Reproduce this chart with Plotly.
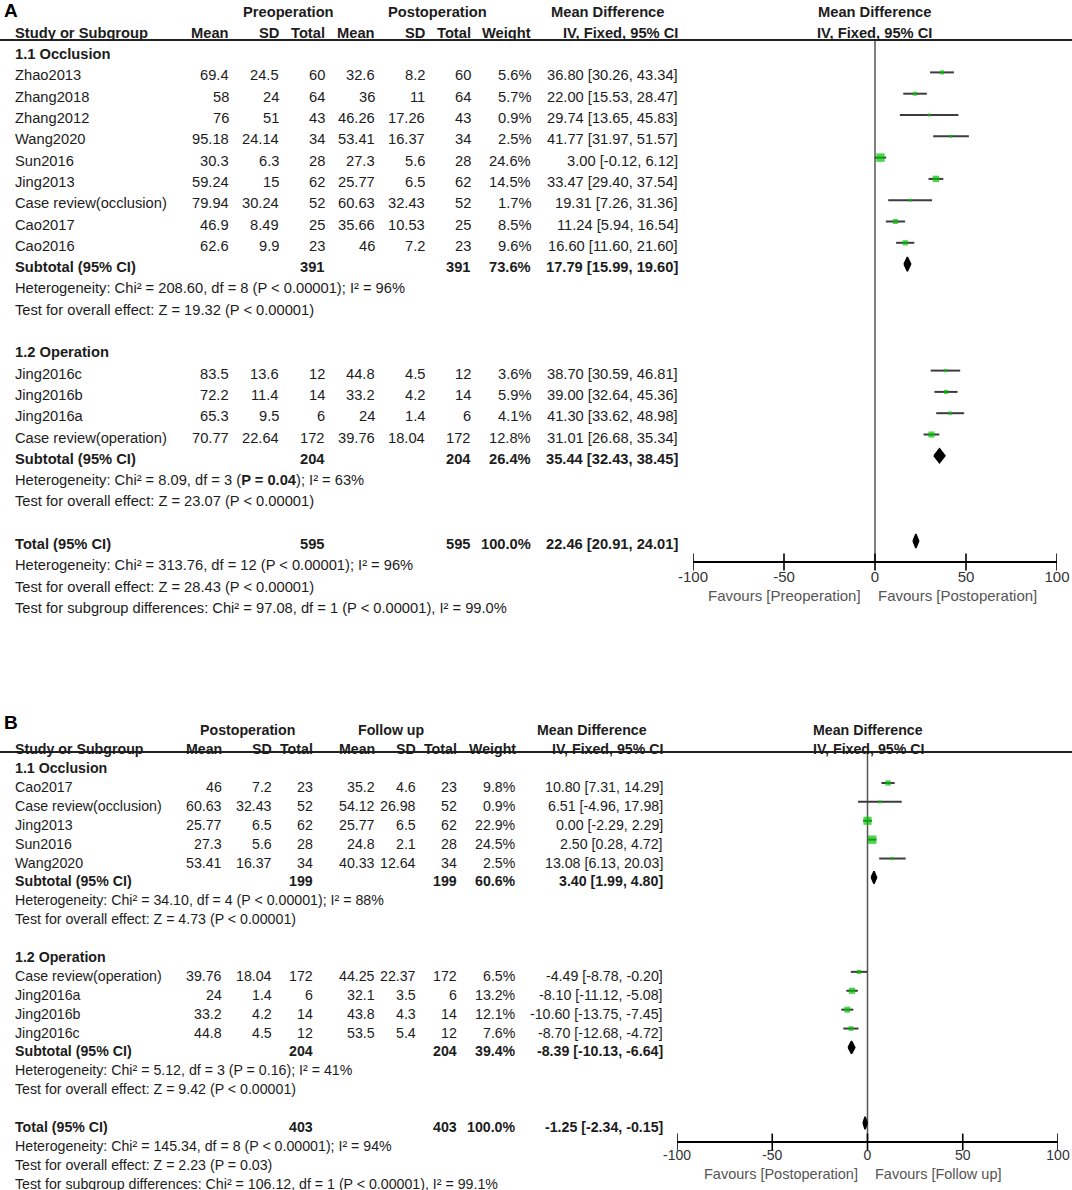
import math
import plotly.graph_objects as go

# ======================= DATA : PANEL A =======================
a_hdr_groups = ["Preoperation", "Postoperation"]
a_left_fav = "Favours [Preoperation]"
a_right_fav = "Favours [Postoperation]"

a1_name = "1.1 Occlusion"
a1_study = ["Zhao2013", "Zhang2018", "Zhang2012", "Wang2020", "Sun2016", "Jing2013",
            "Case review(occlusion)", "Cao2017", "Cao2016"]
a1_m1 = ["69.4", "58", "76", "95.18", "30.3", "59.24", "79.94", "46.9", "62.6"]
a1_s1 = ["24.5", "24", "51", "24.14", "6.3", "15", "30.24", "8.49", "9.9"]
a1_n1 = [60, 64, 43, 34, 28, 62, 52, 25, 23]
a1_m2 = ["32.6", "36", "46.26", "53.41", "27.3", "25.77", "60.63", "35.66", "46"]
a1_s2 = ["8.2", "11", "17.26", "16.37", "5.6", "6.5", "32.43", "10.53", "7.2"]
a1_n2 = [60, 64, 43, 34, 28, 62, 52, 25, 23]
a1_w = [5.6, 5.7, 0.9, 2.5, 24.6, 14.5, 1.7, 8.5, 9.6]
a1_md = [36.80, 22.00, 29.74, 41.77, 3.00, 33.47, 19.31, 11.24, 16.60]
a1_lo = [30.26, 15.53, 13.65, 31.97, -0.12, 29.40, 7.26, 5.94, 11.60]
a1_hi = [43.34, 28.47, 45.83, 51.57, 6.12, 37.54, 31.36, 16.54, 21.60]
a1_sub = [391, 391, 73.6, 17.79, 15.99, 19.60]
a1_het = "Heterogeneity: Chi² = 208.60, df = 8 (P < 0.00001); I² = 96%"
a1_test = "Test for overall effect: Z = 19.32 (P < 0.00001)"

a2_name = "1.2 Operation"
a2_study = ["Jing2016c", "Jing2016b", "Jing2016a", "Case review(operation)"]
a2_m1 = ["83.5", "72.2", "65.3", "70.77"]
a2_s1 = ["13.6", "11.4", "9.5", "22.64"]
a2_n1 = [12, 14, 6, 172]
a2_m2 = ["44.8", "33.2", "24", "39.76"]
a2_s2 = ["4.5", "4.2", "1.4", "18.04"]
a2_n2 = [12, 14, 6, 172]
a2_w = [3.6, 5.9, 4.1, 12.8]
a2_md = [38.70, 39.00, 41.30, 31.01]
a2_lo = [30.59, 32.64, 33.62, 26.68]
a2_hi = [46.81, 45.36, 48.98, 35.34]
a2_sub = [204, 204, 26.4, 35.44, 32.43, 38.45]
a2_het = "Heterogeneity: Chi² = 8.09, df = 3 (<b>P = 0.04</b>); I² = 63%"
a2_test = "Test for overall effect: Z = 23.07 (P < 0.00001)"

a_total = [595, 595, 100.0, 22.46, 20.91, 24.01]
a_total_het = "Heterogeneity: Chi² = 313.76, df = 12 (P < 0.00001); I² = 96%"
a_total_test = "Test for overall effect: Z = 28.43 (P < 0.00001)"
a_subgroup = "Test for subgroup differences: Chi² = 97.08, df = 1 (P < 0.00001), I² = 99.0%"

# ======================= DATA : PANEL B =======================
b_hdr_groups = ["Postoperation", "Follow up"]
b_left_fav = "Favours [Postoperation]"
b_right_fav = "Favours [Follow up]"

b1_name = "1.1 Occlusion"
b1_study = ["Cao2017", "Case review(occlusion)", "Jing2013", "Sun2016", "Wang2020"]
b1_m1 = ["46", "60.63", "25.77", "27.3", "53.41"]
b1_s1 = ["7.2", "32.43", "6.5", "5.6", "16.37"]
b1_n1 = [23, 52, 62, 28, 34]
b1_m2 = ["35.2", "54.12", "25.77", "24.8", "40.33"]
b1_s2 = ["4.6", "26.98", "6.5", "2.1", "12.64"]
b1_n2 = [23, 52, 62, 28, 34]
b1_w = [9.8, 0.9, 22.9, 24.5, 2.5]
b1_md = [10.80, 6.51, 0.00, 2.50, 13.08]
b1_lo = [7.31, -4.96, -2.29, 0.28, 6.13]
b1_hi = [14.29, 17.98, 2.29, 4.72, 20.03]
b1_sub = [199, 199, 60.6, 3.40, 1.99, 4.80]
b1_het = "Heterogeneity: Chi² = 34.10, df = 4 (P < 0.00001); I² = 88%"
b1_test = "Test for overall effect: Z = 4.73 (P < 0.00001)"

b2_name = "1.2 Operation"
b2_study = ["Case review(operation)", "Jing2016a", "Jing2016b", "Jing2016c"]
b2_m1 = ["39.76", "24", "33.2", "44.8"]
b2_s1 = ["18.04", "1.4", "4.2", "4.5"]
b2_n1 = [172, 6, 14, 12]
b2_m2 = ["44.25", "32.1", "43.8", "53.5"]
b2_s2 = ["22.37", "3.5", "4.3", "5.4"]
b2_n2 = [172, 6, 14, 12]
b2_w = [6.5, 13.2, 12.1, 7.6]
b2_md = [-4.49, -8.10, -10.60, -8.70]
b2_lo = [-8.78, -11.12, -13.75, -12.68]
b2_hi = [-0.20, -5.08, -7.45, -4.72]
b2_sub = [204, 204, 39.4, -8.39, -10.13, -6.64]
b2_het = "Heterogeneity: Chi² = 5.12, df = 3 (P = 0.16); I² = 41%"
b2_test = "Test for overall effect: Z = 9.42 (P < 0.00001)"

b_total = [403, 403, 100.0, -1.25, -2.34, -0.15]
b_total_het = "Heterogeneity: Chi² = 145.34, df = 8 (P < 0.00001); I² = 94%"
b_total_test = "Test for overall effect: Z = 2.23 (P = 0.03)"
b_subgroup = "Test for subgroup differences: Chi² = 106.12, df = 1 (P < 0.00001), I² = 99.1%"

tick_vals = [-100, -50, 0, 50, 100]
tick_text = ["-100", "-50", "0", "50", "100"]
col_headers = ["Mean", "SD", "Total", "Mean", "SD", "Total", "Weight"]

# ======================= BUILD =======================
W, H = 1072, 1190
FONT = "Liberation Sans, Arial, Helvetica, sans-serif"
TXT = "#1c1c1c"
GREEN = "#00c400"


def grp(name, study, m1, s1, n1, m2, s2, n2, w, md, lo, hi, sub, het, test):
    return dict(name=name, study=study, m1=m1, s1=s1, n1=n1, m2=m2, s2=s2, n2=n2,
                w=w, md=md, lo=lo, hi=hi, sub=sub, het=het, test=test)


panels = [
    dict(letter="A", hdr=a_hdr_groups, lf=a_left_fav, rf=a_right_fav,
         groups=[grp(a1_name, a1_study, a1_m1, a1_s1, a1_n1, a1_m2, a1_s2, a1_n2,
                     a1_w, a1_md, a1_lo, a1_hi, a1_sub, a1_het, a1_test),
                 grp(a2_name, a2_study, a2_m1, a2_s1, a2_n1, a2_m2, a2_s2, a2_n2,
                     a2_w, a2_md, a2_lo, a2_hi, a2_sub, a2_het, a2_test)],
         total=a_total, thet=a_total_het, ttest=a_total_test, tsub=a_subgroup,
         # layout (pixels)
         row0=8.5, rowh=21.3, tshift=3, fs=14.7,
         cols=[231, 281, 327, 377, 427, 473, 533, 680],
         hdrc=[288, 437, 607], fcen=874, hline=40,
         xdom=(693, 1057), axis_px=562, fav_px=595, fav_gap=(863, 876),
         tick_fs=15, standoff=1, fav_fs=15,
         letter_px=11, xa="x", ya="y"),
    dict(letter="B", hdr=b_hdr_groups, lf=b_left_fav, rf=b_right_fav,
         groups=[grp(b1_name, b1_study, b1_m1, b1_s1, b1_n1, b1_m2, b1_s2, b1_n2,
                     b1_w, b1_md, b1_lo, b1_hi, b1_sub, b1_het, b1_test),
                 grp(b2_name, b2_study, b2_m1, b2_s1, b2_n1, b2_m2, b2_s2, b2_n2,
                     b2_w, b2_md, b2_lo, b2_hi, b2_sub, b2_het, b2_test)],
         total=b_total, thet=b_total_het, ttest=b_total_test, tsub=b_subgroup,
         row0=726.3, rowh=18.89, tshift=4, fs=14.2,
         cols=[224, 274, 315, 377, 418, 459, 518, 665],
         hdrc=[247, 391, 592], fcen=868, hline=752,
         xdom=(677, 1058), axis_px=1142, fav_px=1174, fav_gap=(860, 873),
         tick_fs=14, standoff=0, fav_fs=14.5,
         letter_px=723, xa="x2", ya="y2"),
]

fig = go.Figure()
annotations = []
shapes = []
layout_axes = {}


def px_x(p):
    return p / W


def px_y(p):
    return 1 - p / H


def ci_txt(md, lo, hi):
    return f"{md:.2f} [{lo:.2f}, {hi:.2f}]"


for k, P in enumerate(panels):
    yref = P["ya"]
    fs = P["fs"]
    cols = P["cols"]

    def txt(text, xpx, row, anchor="right", bold=False, size=None, color=TXT):
        t = f"<b>{text}</b>" if bold else text
        annotations.append(dict(text=t, x=px_x(xpx), y=row, xref="paper", yref=yref,
                                xanchor=anchor, yanchor="middle", showarrow=False,
                                yshift=-P["tshift"],
                                font=dict(family=FONT, size=size or fs, color=color)))

    # header rows
    txt(P["hdr"][0], P["hdrc"][0], 0, anchor="center", bold=True)
    txt(P["hdr"][1], P["hdrc"][1], 0, anchor="center", bold=True)
    txt("Mean Difference", P["hdrc"][2], 0, anchor="center", bold=True)
    txt("Mean Difference", P["fcen"], 0, anchor="center", bold=True)
    txt("Study or Subgroup", 13, 1, anchor="left", bold=True)
    for h, c in zip(col_headers, cols[:7]):
        txt(h, c, 1, bold=True)
    txt("IV, Fixed, 95% CI", cols[7], 1, bold=True)
    txt("IV, Fixed, 95% CI", P["fcen"], 1, anchor="center", bold=True)

    # panel letter
    annotations.append(dict(text="<b>%s</b>" % P["letter"], x=px_x(2), y=px_y(P["letter_px"]),
                            xref="paper", yref="paper", xanchor="left", yanchor="middle",
                            showarrow=False, font=dict(family=FONT, size=19, color="#000")))

    hline_row = (P["hline"] - P["row0"]) / P["rowh"]
    shapes.append(dict(type="line", xref="paper", yref=yref, x0=0, x1=1,
                       y0=hline_row, y1=hline_row, line=dict(color="#222", width=2)))

    ci_x, ci_y = [], []
    sq_x, sq_y, sq_s = [], [], []
    dia = []
    r = 2
    for g in P["groups"]:
        txt(g["name"], 13, r, anchor="left", bold=True)
        r += 1
        for i, s in enumerate(g["study"]):
            txt(s, 13, r, anchor="left")
            vals = [g["m1"][i], g["s1"][i], str(g["n1"][i]), g["m2"][i], g["s2"][i],
                    str(g["n2"][i]), f"{g['w'][i]:.1f}%"]
            for v, c in zip(vals, cols[:7]):
                txt(v, c, r)
            txt(ci_txt(g["md"][i], g["lo"][i], g["hi"][i]), cols[7], r)
            ci_x += [g["lo"][i], g["hi"][i], None]
            ci_y += [r, r, None]
            sq_x.append(g["md"][i])
            sq_y.append(r)
            sq_s.append(max(3.0, 1.7 * math.sqrt(g["w"][i])))
            r += 1
        sb = g["sub"]
        txt("Subtotal (95% CI)", 13, r, anchor="left", bold=True)
        txt(str(sb[0]), cols[2], r, bold=True)
        txt(str(sb[1]), cols[5], r, bold=True)
        txt(f"{sb[2]:.1f}%", cols[6], r, bold=True)
        txt(ci_txt(sb[3], sb[4], sb[5]), cols[7], r, bold=True)
        dia.append((sb[3], sb[4], sb[5], r))
        r += 1
        txt(g["het"], 13, r, anchor="left")
        r += 1
        txt(g["test"], 13, r, anchor="left")
        r += 2
    tt = P["total"]
    txt("Total (95% CI)", 13, r, anchor="left", bold=True)
    txt(str(tt[0]), cols[2], r, bold=True)
    txt(str(tt[1]), cols[5], r, bold=True)
    txt(f"{tt[2]:.1f}%", cols[6], r, bold=True)
    txt(ci_txt(tt[3], tt[4], tt[5]), cols[7], r, bold=True)
    dia.append((tt[3], tt[4], tt[5], r))
    txt(P["thet"], 13, r + 1, anchor="left")
    txt(P["ttest"], 13, r + 2, anchor="left")
    txt(P["tsub"], 13, r + 3, anchor="left")

    axis_row = (P["axis_px"] - P["row0"]) / P["rowh"]

    # zero line
    fig.add_trace(go.Scatter(x=[0, 0], y=[hline_row, axis_row], mode="lines",
                             line=dict(color="#555", width=1.5),
                             xaxis=P["xa"], yaxis=P["ya"], hoverinfo="skip"))
    # CI lines
    fig.add_trace(go.Scatter(x=ci_x, y=ci_y, mode="lines",
                             line=dict(color="#3c3c3c", width=2),
                             xaxis=P["xa"], yaxis=P["ya"], hoverinfo="skip"))
    # squares
    fig.add_trace(go.Scatter(x=sq_x, y=sq_y, mode="markers",
                             marker=dict(symbol="square", color=GREEN, size=sq_s,
                                         line=dict(width=0)),
                             xaxis=P["xa"], yaxis=P["ya"]))
    # diamonds
    hh = 0.33
    for (m, lo, hi, rr) in dia:
        fig.add_trace(go.Scatter(x=[lo, m, hi, m, lo], y=[rr, rr - hh, rr, rr + hh, rr],
                                 mode="lines", fill="toself", fillcolor="#000",
                                 line=dict(color="#000", width=1.5),
                                 xaxis=P["xa"], yaxis=P["ya"], hoverinfo="skip"))
    # tick marks crossing the axis line
    fig.add_trace(go.Scatter(x=tick_vals, y=[axis_row] * len(tick_vals), mode="markers",
                             marker=dict(symbol="line-ns", size=12, color="#000",
                                         line=dict(color="#000", width=1.6)),
                             xaxis=P["xa"], yaxis=P["ya"], hoverinfo="skip"))

    # favours labels
    annotations.append(dict(text=P["lf"], x=px_x(P["fav_gap"][0]), y=px_y(P["fav_px"]),
                            xref="paper", yref="paper", xanchor="right", yanchor="middle",
                            showarrow=False,
                            font=dict(family=FONT, size=P["fav_fs"], color="#555")))
    annotations.append(dict(text=P["rf"], x=px_x(P["fav_gap"][1]), y=px_y(P["fav_px"]),
                            xref="paper", yref="paper", xanchor="left", yanchor="middle",
                            showarrow=False,
                            font=dict(family=FONT, size=P["fav_fs"], color="#555")))

    # axes
    top_row = -P["row0"] / P["rowh"]
    bot_row = (H - P["row0"]) / P["rowh"]
    xkey = "xaxis" if P["xa"] == "x" else "xaxis2"
    ykey = "yaxis" if P["ya"] == "y" else "yaxis2"
    layout_axes[xkey] = dict(domain=[P["xdom"][0] / W, P["xdom"][1] / W], range=[-100, 100],
                             anchor="free", position=px_y(P["axis_px"]),
                             showline=True, linecolor="#000", linewidth=2,
                             showgrid=False, zeroline=False, ticks="",
                             tickmode="array", tickvals=tick_vals, ticktext=tick_text,
                             ticklabelstandoff=P["standoff"], automargin=False,
                             tickfont=dict(family=FONT, size=P["tick_fs"], color="#333"),
                             fixedrange=True)
    layout_axes[ykey] = dict(domain=[0, 1], range=[bot_row, top_row], visible=False,
                             anchor=P["xa"], showgrid=False, zeroline=False,
                             automargin=False, fixedrange=True)

fig.update_layout(
    template="none",
    width=W, height=H,
    margin=dict(l=0, r=0, t=0, b=0, pad=0, autoexpand=False),
    paper_bgcolor="white", plot_bgcolor="rgba(0,0,0,0)",
    showlegend=False,
    annotations=annotations,
    shapes=shapes,
    **layout_axes,
)

fig.write_html(
    "out.html",
    config={"displayModeBar": False},
    post_script="document.body.style.margin='0px';document.body.style.padding='0px';"
                "document.body.style.overflow='hidden';",
)
